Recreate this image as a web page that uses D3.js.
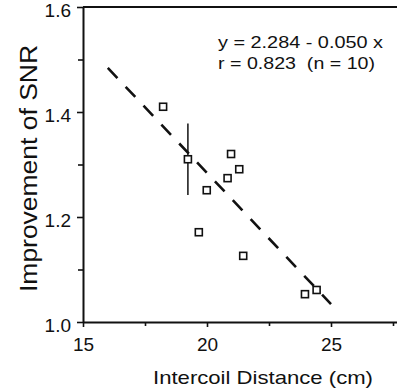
<!DOCTYPE html>
<html>
<head>
<meta charset="utf-8">
<script src="https://cdn.jsdelivr.net/npm/d3@7"></script>
<style>
  html, body { margin: 0; padding: 0; background: #fff; }
  svg { display: block; }
  text { font-family: "Liberation Sans", Arial, Helvetica, sans-serif; fill: #111; }
</style>
</head>
<body>
<svg id="chart" width="397" height="392"></svg>
<script>
// ---- data ----
const distance = [18.23, 19.23, 20.97, 21.30, 20.83, 19.99, 19.67, 21.46, 23.95, 24.42];
const snrGain  = [1.410, 1.310, 1.320, 1.291, 1.274, 1.251, 1.171, 1.126, 1.053, 1.061];
const snrErr   = [0,     0.068, 0,     0,     0,     0,     0,     0,     0,     0];
const fitIntercept = 2.284;
const fitSlope = -0.050;
const fitRange = [16, 25];
const xMajorTicks = [15, 20, 25];
const xMinorTicks = [17.5, 22.5, 27.5];
const yMajorTicks = [1.0, 1.2, 1.4, 1.6];
const yMinorTicks = [1.1, 1.3, 1.5];
const eqLines = ["y = 2.284 - 0.050 x", "r = 0.823  (n = 10)"];
const xTitle = "Intercoil Distance (cm)";
const yTitle = "Improvement of SNR";

// ---- scales ----
const svg = d3.select("#chart");
svg.append("rect").attr("width", 397).attr("height", 392).attr("fill", "#fff");

const x = d3.scaleLinear().domain([15, 30]).range([83, 83 + 15 * 24.8]);
const y = d3.scaleLinear().domain([1.0, 1.6]).range([322, 7]);

// ---- axes ----
const xAxis = svg.append("g").attr("transform", `translate(0,${y(1.0)})`)
  .call(d3.axisBottom(x).tickValues(xMajorTicks).tickSize(5).tickSizeOuter(0).tickPadding(11).tickFormat(d3.format("d")));
svg.append("g").attr("transform", `translate(0,${y(1.0)})`)
  .call(d3.axisBottom(x).tickValues(xMinorTicks).tickSize(4).tickSizeOuter(0).tickFormat(""))
  .select(".domain").remove();

const yAxis = svg.append("g").attr("transform", `translate(${x(15)},0)`)
  .call(d3.axisLeft(y).tickValues(yMajorTicks).tickSize(6).tickSizeOuter(0).tickPadding(6).tickFormat(d3.format(".1f")));
svg.append("g").attr("transform", `translate(${x(15)},0)`)
  .call(d3.axisLeft(y).tickValues(yMinorTicks).tickSize(5).tickSizeOuter(0).tickFormat(""))
  .select(".domain").remove();

svg.selectAll(".domain").attr("stroke", "#111").attr("stroke-width", 2);
svg.selectAll(".tick line").attr("stroke", "#111").attr("stroke-width", 1.6);
xAxis.selectAll(".tick text").attr("font-size", 19).attr("fill", "#111")
  .style("font-family", "'Liberation Sans', Arial, sans-serif");
yAxis.selectAll(".tick text").attr("font-size", 19).attr("fill", "#111").attr("dy", "0.5em")
  .style("font-family", "'Liberation Sans', Arial, sans-serif");

// top border
svg.append("line")
  .attr("x1", x(15)).attr("x2", x(30))
  .attr("y1", y(1.6)).attr("y2", y(1.6))
  .attr("stroke", "#111").attr("stroke-width", 2);

// ---- regression line ----
svg.append("line")
  .attr("x1", x(fitRange[0])).attr("y1", y(fitIntercept + fitSlope * fitRange[0]))
  .attr("x2", x(fitRange[1])).attr("y2", y(fitIntercept + fitSlope * fitRange[1]))
  .attr("stroke", "#111").attr("stroke-width", 2.6)
  .attr("stroke-dasharray", "14,12");

// ---- error bars ----
const pts = distance.map((d, i) => ({ x: d, y: snrGain[i], e: snrErr[i] }));
svg.selectAll(".err").data(pts.filter(p => p.e > 0)).enter().append("line")
  .attr("x1", d => x(d.x)).attr("x2", d => x(d.x))
  .attr("y1", d => y(d.y + d.e)).attr("y2", d => y(d.y - d.e))
  .attr("stroke", "#111").attr("stroke-width", 1.5);

// ---- points ----
const s = 7;
svg.selectAll(".pt").data(pts).enter().append("rect")
  .attr("x", d => x(d.x) - s / 2).attr("y", d => y(d.y) - s / 2)
  .attr("width", s).attr("height", s)
  .attr("fill", "#fff").attr("stroke", "#111").attr("stroke-width", 1.6);

// ---- equation text ----
const eqLens = [165, 157];
svg.selectAll(".eq").data(eqLines).enter().append("text")
  .attr("x", 218).attr("y", (d, i) => 48 + i * 20.5)
  .attr("font-size", 16.5)
  .attr("textLength", (d, i) => eqLens[i])
  .attr("lengthAdjust", "spacingAndGlyphs")
  .style("white-space", "pre")
  .text(d => d);

// ---- axis titles ----
svg.append("text")
  .attr("x", 263).attr("y", 384)
  .attr("text-anchor", "middle")
  .attr("font-size", 19)
  .attr("textLength", 220).attr("lengthAdjust", "spacingAndGlyphs")
  .text(xTitle);

svg.append("text")
  .attr("transform", "translate(37,168.5) rotate(-90)")
  .attr("text-anchor", "middle")
  .attr("font-size", 23)
  .attr("textLength", 247).attr("lengthAdjust", "spacingAndGlyphs")
  .text(yTitle);
</script>
</body>
</html>
